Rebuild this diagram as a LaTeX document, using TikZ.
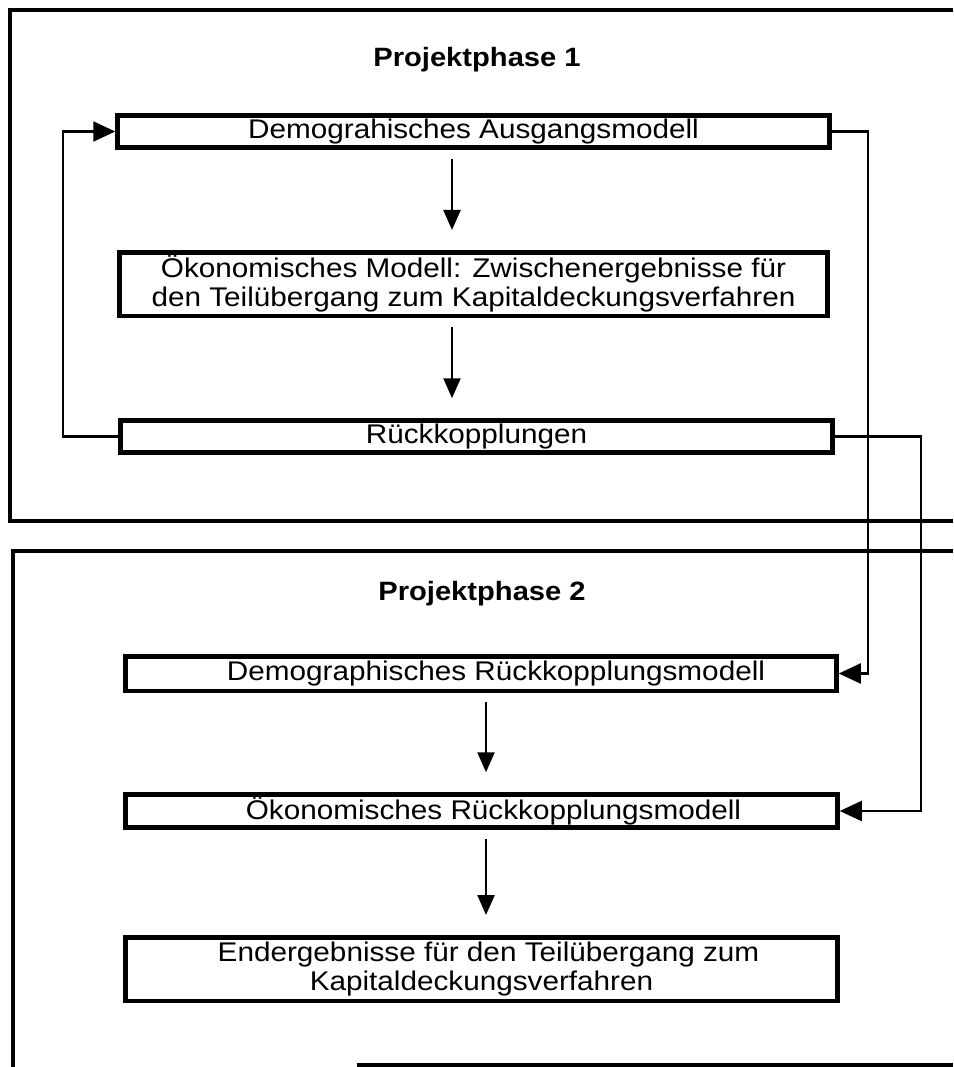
\documentclass[tikz,border=0pt]{standalone}
\usepackage{fontspec}
\setmainfont{Liberation Sans}[FakeStretch=1.1]
\usetikzlibrary{arrows.meta}
\begin{document}
\begin{tikzpicture}[x=1pt,y=-1pt,
  box/.style={draw, line width=4.5pt, inner sep=0pt, align=center, font=\fontsize{27}{29}\selectfont},
  phasetitle/.style={font=\fontsize{26.5}{28}\selectfont\bfseries, inner sep=0pt},
  frame/.style={line width=3.5pt},
  conn/.style={line width=2.2pt, -{Triangle[length=22pt,width=20pt]}},
  dn/.style={line width=2.4pt, -{Triangle[length=20pt,width=17pt]}, shorten <=9pt, shorten >=20pt}]
\useasboundingbox (0,0) rectangle (953,1067);
% outer frames
\draw[frame] (953,10) -| (10,521) -- (953,521);
\draw[frame] (953,551) -| (13,1067);
\draw[frame] (357,1065) -- (953,1065);
% titles
\node[phasetitle] (T1) at (477,60) {Projektphase 1};
\node[phasetitle] (T2) at (482,594) {Projektphase 2};
% boxes
\node[box, minimum width=712, minimum height=32] (A) at (473.5,131.5) {Demograhisches Ausgangsmodell};
\node[box, minimum width=708, minimum height=63.5] (B) at (473.5,284) {Ökonomisches Modell: Zwischenergebnisse für\\den Teilübergang zum Kapitaldeckungsverfahren};
\node[box, minimum width=712, minimum height=32] (C) at (476.5,436.5) {Rückkopplungen};
\node[box, minimum width=711, minimum height=34.5] (D) at (481,673.5) {\hspace*{30pt}Demographisches Rückkopplungsmodell};
\node[box, minimum width=712, minimum height=33] (E) at (481.5,811) {\hspace*{24pt}Ökonomisches Rückkopplungsmodell};
\node[box, minimum width=712, minimum height=63.5] (F) at (481.5,969) {\hspace*{14pt}Endergebnisse für den Teilübergang zum\\Kapitaldeckungsverfahren};
% helper coordinates
\coordinate (L) at (63,0);
\coordinate (R1) at (868,0);
\coordinate (R2) at (921,0);
\coordinate (X1) at (452,0);
\coordinate (X2) at (486,0);
% down arrows
\draw[dn] (A.south -| X1) -- (B.north -| X1);
\draw[dn] (B.south -| X1) -- (C.north -| X1);
\draw[dn] (D.south -| X2) -- (E.north -| X2);
\draw[dn] (E.south -| X2) -- (F.north -| X2);
% feedback connectors
\draw[conn] (C.west) -- (C.west -| L) |- (A.west);
\draw[conn] (A.east) -- (A.east -| R1) |- (D.east);
\draw[conn] (C.east) -- (C.east -| R2) |- (E.east);
\end{tikzpicture}
\end{document}
